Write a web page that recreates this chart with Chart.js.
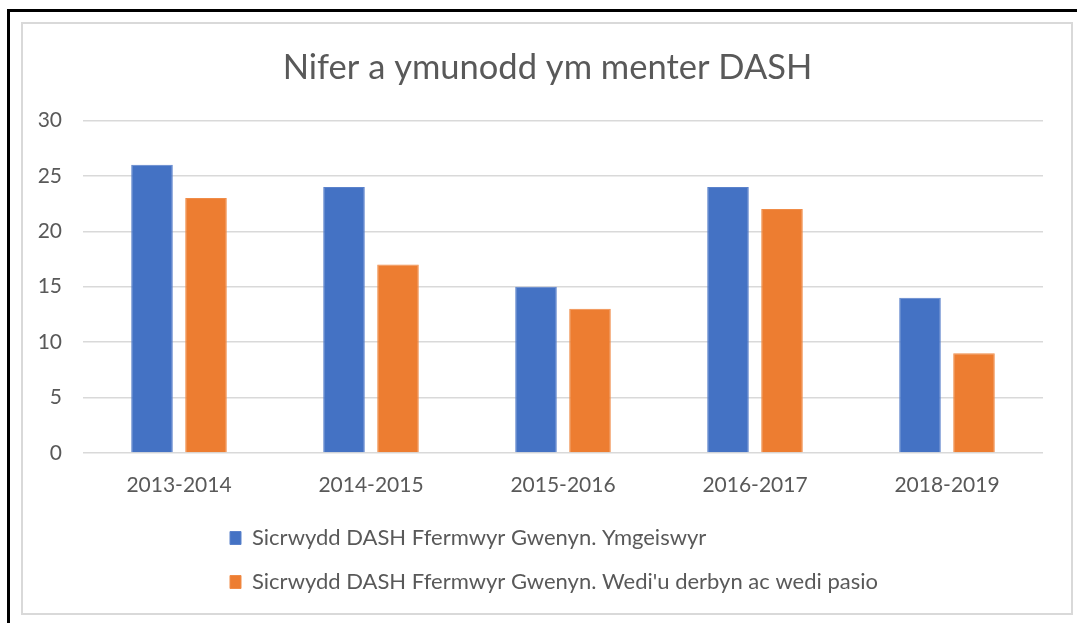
<!DOCTYPE html>
<html>
<head>
<meta charset="utf-8">
<script src="https://cdn.jsdelivr.net/npm/chart.js@4.4.1/dist/chart.umd.min.js"></script>
<style>
  html, body { margin: 0; padding: 0; background: #fff; }
  #wrap { position: relative; width: 1077px; height: 623px; overflow: hidden; }
  #black { position: absolute; left: 7px; top: 9px; width: 1100px; height: 700px; border-top: 3px solid #000; border-left: 3px solid #000; }
  #gray { position: absolute; left: 21px; top: 22px; width: 1048px; height: 589px; border: 2px solid #d9d9d9; }
  #c { position: absolute; left: 0; top: 0; }
</style>
</head>
<body>
<div id="wrap">
  <div id="black"></div>
  <div id="gray"></div>
  <canvas id="c" width="1077" height="623"></canvas>
</div>
<script>
const categories = ['2013-2014', '2014-2015', '2015-2016', '2016-2017', '2018-2019'];
const ymgeiswyr = [26, 24, 15, 24, 14];
const pasio = [23, 17, 13, 22, 9];
const seriesNames = ['Sicrwydd DASH Ffermwyr Gwenyn. Ymgeiswyr', "Sicrwydd DASH Ffermwyr Gwenyn. Wedi'u derbyn ac wedi pasio"];
const titleText = 'Nifer a ymunodd ym menter DASH';

const FONT = 'Lato';
const TEXT = '#595959';

const boxShift = {
  id: 'boxShift',
  afterLayout(chart) {
    const lg = chart.legend;
    if (lg) {
      const dx = 208 - lg.left;
      lg.left += dx;
      lg.right += dx;
    }
    const tb = chart.titleBlock;
    if (tb) {
      tb.left += 11;
      tb.right += 11;
    }
  }
};

new Chart(document.getElementById('c'), {
  type: 'bar',
  data: {
    labels: categories,
    datasets: [
      { label: seriesNames[0], data: ymgeiswyr, backgroundColor: '#4472C4', borderColor: '#5b82cb', borderWidth: 1, categoryPercentage: 0.5625, barPercentage: 0.77 },
      { label: seriesNames[1], data: pasio, backgroundColor: '#ED7D31', borderColor: '#f08c48', borderWidth: 1, categoryPercentage: 0.5625, barPercentage: 0.77 }
    ]
  },
  options: {
    responsive: false,
    devicePixelRatio: 1,
    animation: false,
    layout: { padding: { left: 30, right: 34, top: 0, bottom: 20 } },
    plugins: {
      title: {
        display: true,
        text: titleText,
        color: TEXT,
        font: { family: FONT, size: 34.5, weight: 'normal', lineHeight: 1.2 },
        padding: { top: 47, bottom: 32 }
      },
      legend: {
        display: true,
        position: 'bottom',
        align: 'start',
        labels: {
          color: TEXT,
          font: { family: FONT, size: 22 },
          boxWidth: 11,
          boxHeight: 13,
          padding: 22
        }
      },
      tooltip: { enabled: false }
    },
    scales: {
      x: {
        grid: { display: false, drawTicks: false },
        border: { display: false },
        ticks: { color: TEXT, font: { family: FONT, size: 21 }, padding: 20, maxRotation: 0 },
        afterFit(s) { s.height = 52; }
      },
      y: {
        min: 0, max: 30,
        grid: { color: '#d9d9d9', lineWidth: 1.5, drawTicks: false },
        border: { display: false },
        ticks: { stepSize: 5, color: TEXT, font: { family: FONT, size: 21 }, padding: 21 },
        afterFit(s) { s.width = 53; }
      }
    }
  },
  plugins: [boxShift]
});
</script>
</body>
</html>
